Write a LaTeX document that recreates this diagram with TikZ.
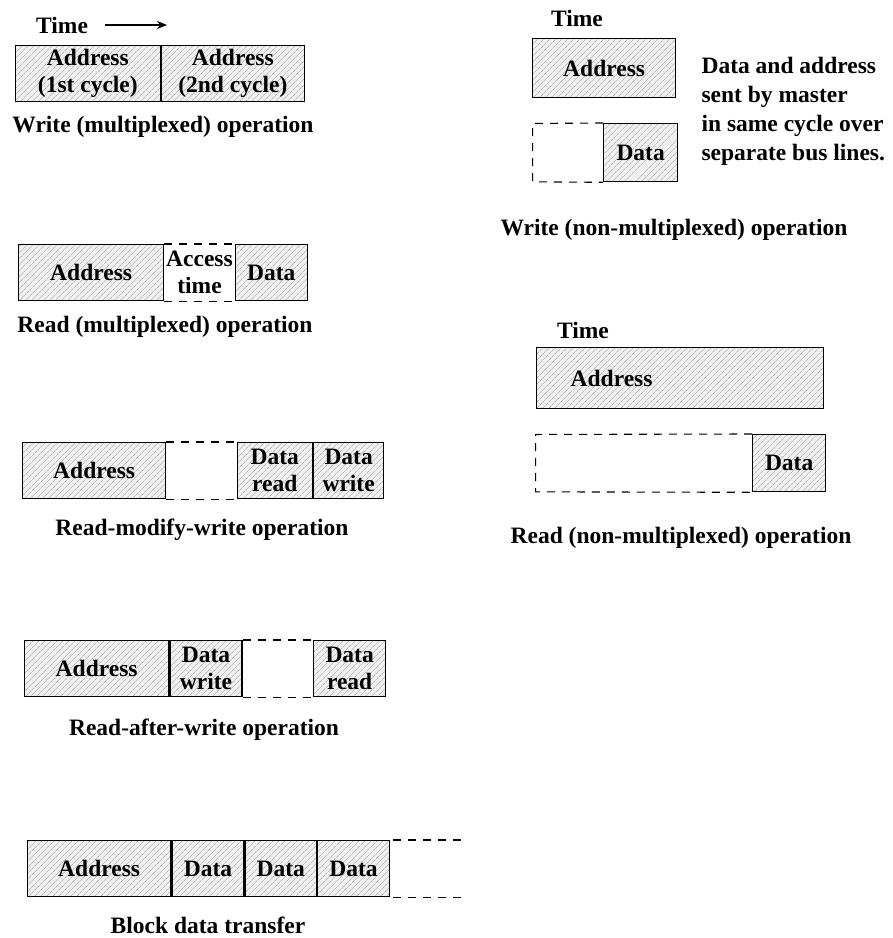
\documentclass[tikz,border=0pt]{standalone}
\usepackage{fontspec}
\setmainfont{Liberation Serif}
\usetikzlibrary{arrows.meta, positioning, patterns.meta}

\begin{document}
\begin{tikzpicture}[
  x=1pt, y=-1pt,
  node distance=0pt,
  every node/.style={font=\bfseries\fontsize{23.5}{27}\selectfont},
  cell/.style={draw, line width=1.3pt, preaction={fill=gray!12},
    pattern={Lines[angle=45, distance=4pt, line width=0.7pt]}, pattern color=gray!55,
    minimum height=56pt, inner sep=0pt, align=center},
  gap/.style={minimum height=56pt, inner sep=0pt, align=center},
  dline/.style={line width=1.1pt, dash pattern=on 8pt off 7pt},
  arr/.style={-{Stealth[length=10pt, width=8pt]}, line width=1.1pt},
  note/.style={align=left, anchor=west, font=\bfseries\fontsize{23.5}{29}\selectfont}
]
\useasboundingbox (0,0) rectangle (893,938);

% write (multiplexed)
\node[anchor=west, inner sep=0pt] (timeA) at (36,25) {Time};
\coordinate (timeAend) at (167,25);
\draw[arr] ([xshift=17pt]timeA.east) -- (timeAend);
\node[cell, minimum width=145pt, anchor=north west] (wAdr1) at (15,45) {Address\\(1st cycle)};
\node[cell, minimum width=143pt, right=of wAdr1] (wAdr2) {Address\\(2nd cycle)};
\node (wMux) at (163,127) {Write (multiplexed) operation};

% read (multiplexed)
\node[cell, minimum width=145pt, anchor=north west] (rAdr) at (18,244) {Address};
\node[gap, minimum width=70pt, right=of rAdr] (rAcc) {Access\\time};
\node[cell, minimum width=72pt, right=of rAcc] (rDat) {Data};
\draw[dline] (rAdr.north east) -- (rDat.north west);
\draw[dline] (rAdr.south east) -- (rDat.south west);
\node (rMux) at (165,327) {Read (multiplexed) operation};

% read-modify-write
\node[cell, minimum width=143pt, anchor=north west] (mAdr) at (22,442) {Address};
\node[gap, minimum width=70pt, right=of mAdr] (mGap) {};
\node[cell, minimum width=75pt, right=of mGap] (mRd) {Data\\read};
\node[cell, minimum width=70pt, right=of mRd] (mWr) {Data\\write};
\draw[dline] (mAdr.north east) -- (mRd.north west);
\draw[dline] (mAdr.south east) -- (mRd.south west);
\node (mOp) at (202,530) {Read-modify-write operation};

% read-after-write
\node[cell, minimum width=144pt, anchor=north west] (aAdr) at (24,640) {Address};
\node[cell, minimum width=72pt, right=of aAdr] (aWr) {Data\\write};
\node[gap, minimum width=70pt, right=of aWr] (aGap) {};
\node[cell, minimum width=72pt, right=of aGap] (aRd) {Data\\read};
\draw[dline] (aWr.north east) -- (aRd.north west);
\draw[dline] (aWr.south east) -- (aRd.south west);
\node (aOp) at (204,730) {Read-after-write operation};

% block data transfer
\node[cell, minimum width=143pt, anchor=north west] (bAdr) at (27,840) {Address};
\node[cell, minimum width=72pt, right=of bAdr] (bD1) {Data};
\node[cell, minimum width=71pt, right=of bD1] (bD2) {Data};
\node[cell, minimum width=72pt, right=of bD2] (bD3) {Data};
\coordinate[right=72pt of bD3.north east] (bEndT);
\coordinate[right=72pt of bD3.south east] (bEndB);
\draw[dline] ([xshift=3pt]bD3.north east) -- (bEndT);
\draw[dline] ([xshift=3pt]bD3.south east) -- (bEndB);
\node[inner sep=1pt] (bOp) at (208,925) {Block data transfer};

% write (non-multiplexed)
\node (timeF) at (577,18) {Time};
\node[cell, minimum width=143pt, minimum height=59pt, anchor=north west] (fAdr) at (532,38) {Address};
\node[cell, minimum width=74pt, minimum height=58pt, anchor=north west] (fDat) at (603,123) {Data};
\node[gap, minimum width=70pt, minimum height=58pt, left=of fDat] (fIdle) {};
\draw[dline] (fDat.north west) -- (fIdle.north west) -- (fIdle.south west) -- (fDat.south west);
\node[note] (fNote) at (698,111) {Data and address\\sent by master\\in same cycle over\\separate bus lines.};
\node (fOp) at (674,230) {Write (non-multiplexed) operation};

% read (non-multiplexed)
\node (timeG) at (583,330) {Time};
\node[cell, text width=287pt, minimum height=61pt, align=left, anchor=north west] (gAdr) at (536,347) {\hspace*{34pt}Address};
\node[cell, minimum width=73pt, minimum height=57pt, anchor=north west] (gDat) at (752,434) {Data};
\node[gap, minimum width=216pt, minimum height=57pt, left=of gDat] (gIdle) {};
\draw[dline] (gDat.north west) -- (gIdle.north west) -- (gIdle.south west) -- (gDat.south west);
\node (gOp) at (681,538) {Read (non-multiplexed) operation};

\end{tikzpicture}
\end{document}
